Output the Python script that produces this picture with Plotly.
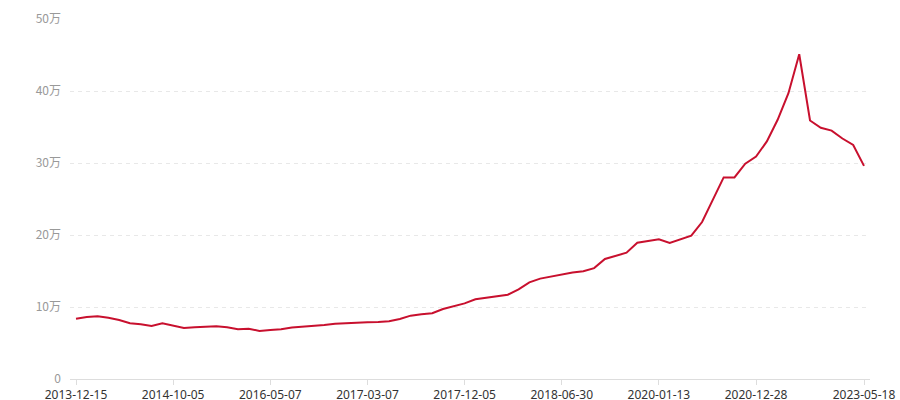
import plotly.graph_objects as go

# Values in yuan (74 points)
values = [
    83800, 86100, 87100, 85100, 81900, 77400, 76000, 73600, 77400, 74000,
    70800, 71800, 73000, 73200, 71900, 69200, 69900, 66700, 68100, 69000,
    71400, 72400, 73500, 74900, 76800, 77800, 78500, 78800, 79300, 80300,
    83300, 88000, 89900, 91300, 97200, 100700, 105000, 110800, 112800, 115000,
    117000, 124600, 134300, 139400, 142400, 145400, 147800, 149600, 154000, 166700,
    170800, 175400, 189300, 191200, 194000, 189000, 194000, 199000, 218000, 249000,
    280000, 280000, 299000, 309000, 330000, 360000, 397000, 451000, 359000, 349000,
    345000, 334000, 325000, 296000,
]

tick_indices = [0, 9, 18, 27, 36, 45, 54, 63, 73]
tick_labels = ["2013-12-15", "2014-10-05", "2016-05-07", "2017-03-07", "2017-12-05",
               "2018-06-30", "2020-01-13", "2020-12-28", "2023-05-18"]

y_tick_vals = [0, 100000, 200000, 300000, 400000, 500000]
y_tick_text = ["0", "10万", "20万", "30万", "40万", "50万"]

x = list(range(len(values)))

fig = go.Figure()
fig.add_trace(go.Scatter(
    x=x, y=values, mode="lines",
    line=dict(color="#c8102e", width=2),
    hoverinfo="skip",
))

fig.update_layout(
    width=900, height=400,
    margin=dict(l=70, r=30, t=19, b=21, pad=0),
    paper_bgcolor="white", plot_bgcolor="white",
    showlegend=False,
    font=dict(family="Noto Sans CJK SC, Noto Sans, sans-serif", size=12),
)

fig.update_xaxes(
    range=[-0.556, len(values) - 1 + 0.556],
    tickmode="array", tickvals=tick_indices, ticktext=tick_labels,
    showgrid=False, zeroline=False,
    showline=True, linecolor="#dddddd", linewidth=1,
    ticks="outside", ticklen=5, tickcolor="#dddddd",
    tickfont=dict(family="Noto Sans, sans-serif", color="#333333", size=12),
    ticklabelstandoff=0,
    automargin=False,
)

fig.update_yaxes(
    range=[0, 500000],
    tickmode="array", tickvals=y_tick_vals, ticktext=y_tick_text,
    showgrid=True, gridcolor="#e8e8e8", griddash="4px,4px", gridwidth=1,
    zeroline=False, showline=False, ticks="",
    ticklabelstandoff=8,
    tickfont=dict(color="#999999", size=12),
    automargin=False,
)

fig.write_html(
    "out.html",
    config={"displayModeBar": False},
    post_script="document.body.style.margin='0';document.body.style.padding='0';document.body.style.overflow='hidden';",
)
